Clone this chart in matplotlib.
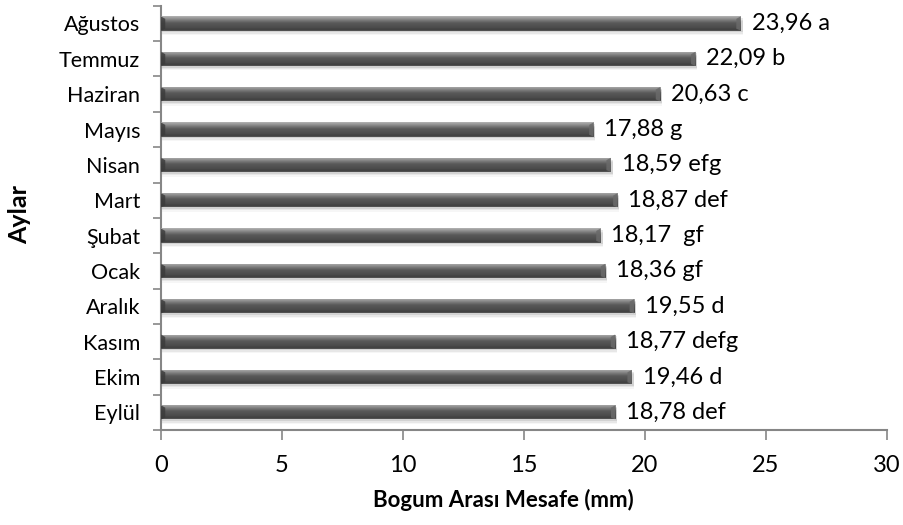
import numpy as np
import matplotlib.pyplot as plt
from matplotlib.colors import LinearSegmentedColormap

months = ["Eylül", "Ekim", "Kasım", "Aralık", "Ocak", "Şubat",
          "Mart", "Nisan", "Mayıs", "Haziran", "Temmuz", "Ağustos"]
values = [18.78, 19.46, 18.77, 19.55, 18.36, 18.17,
          18.87, 18.59, 17.88, 20.63, 22.09, 23.96]
letters = ["def", "d", "defg", "d", "gf", " gf",
           "def", "efg", "g", "c", "b", "a"]

plt.rcParams['font.family'] = ['Lato', 'DejaVu Sans']

fig = plt.figure(figsize=(9.04, 5.25), dpi=100)
ax = fig.add_axes([0.178, 0.181, 0.803, 0.808])

# vertical shading of the cylinder-like bars (top -> bottom)
shade = LinearSegmentedColormap.from_list(
    "bar", [(0.0, "#b4b4b4"), (0.12, "#9a9a9a"), (0.28, "#7a7a7a"),
            (0.45, "#5a5a5a"), (0.8, "#4a4a4a"), (0.92, "#3e3e3e"), (1.0, "#5c5c5c")])
grad = np.linspace(0, 1, 64).reshape(-1, 1)

h = 0.4
y = np.arange(len(months))
for i, v in enumerate(values):
    # soft shadow under the bar
    for k, a in enumerate([0.09, 0.06, 0.035]):
        ax.barh(y[i] - 0.05 - 0.04 * k, v + 0.08, height=h, left=0,
                color="black", alpha=a, linewidth=0, zorder=1)
    bar = ax.barh(y[i], v, height=h, color="none", linewidth=0, zorder=2)[0]
    im = ax.imshow(grad, cmap=shade, aspect="auto", interpolation="bilinear",
                   extent=(0, v, y[i] - h / 2, y[i] + h / 2), zorder=3,
                   origin="upper")
    im.set_clip_path(bar)
    # bevelled ends
    top, bot = y[i] + h / 2, y[i] - h / 2
    ax.fill([v - 0.18, v, v, v - 0.18],
            [top - 0.07, top, bot, bot + 0.05],
            color="#6a6a6a", alpha=0.85, lw=0, zorder=4)
    ax.fill([0, 0.18, 0.18, 0], [top, top - 0.07, bot + 0.05, bot],
            color="#3a3a3a", alpha=0.8, lw=0, zorder=4)
    ax.text(v + 0.45, y[i], f"{v:.2f}".replace(".", ",") + " " + letters[i],
            va="center", ha="left", fontsize=17, color="black", zorder=5)

ax.set_xlim(0, 30)
ax.set_ylim(-0.5, len(months) - 0.5)
ax.set_xticks([0, 5, 10, 15, 20, 25, 30])
ax.set_xticklabels(["0", "5", "10", "15", "20", "25", "30"])
ax.set_yticks(y)
ax.set_yticklabels(months)
ax.set_yticks(np.arange(-0.5, len(months)), minor=True)
ax.tick_params(axis="y", which="major", length=0, pad=15, labelsize=15.5)
ax.tick_params(axis="y", which="minor", length=6, color="#868686", width=1.2)
ax.tick_params(axis="x", length=7, color="#868686", width=1.2, pad=11, labelsize=17)

for s in ["top", "right"]:
    ax.spines[s].set_visible(False)
for s in ["left", "bottom"]:
    ax.spines[s].set_color("#868686")
    ax.spines[s].set_linewidth(1.5)

fig.text(503 / 904, 1 - 500 / 525, "Bogum Arası Mesafe (mm)", fontsize=16,
         fontweight="bold", ha="center", va="center")
fig.text(20 / 904, 1 - 215 / 525, "Aylar", fontsize=18, fontweight="bold",
         rotation=90, ha="center", va="center")

fig.savefig("out.png", dpi=100)
